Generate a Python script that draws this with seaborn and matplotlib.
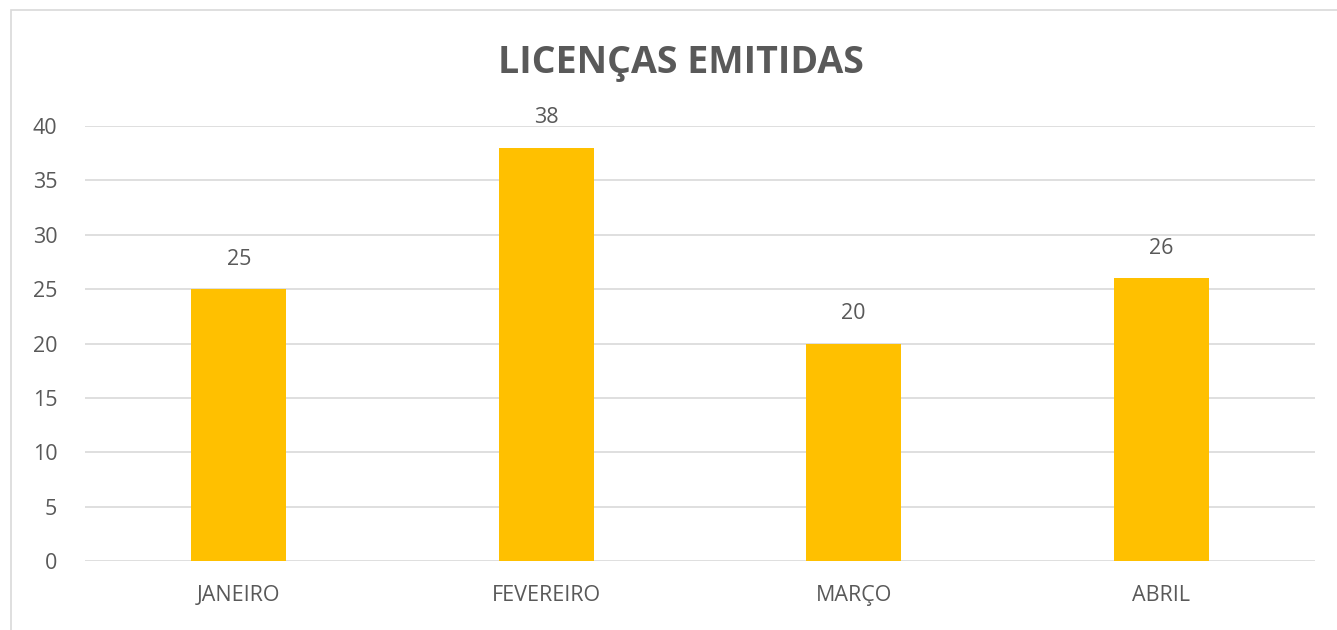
import matplotlib.pyplot as plt
import pandas as pd
import seaborn as sns
from matplotlib.patches import Rectangle

meses = ["JANEIRO", "FEVEREIRO", "MARÇO", "ABRIL"]
licencas = [25, 38, 20, 26]
y_ticks = [0, 5, 10, 15, 20, 25, 30, 35, 40]
titulo = "LICENÇAS EMITIDAS"

df = pd.DataFrame({"mes": meses, "licencas": licencas})

sns.set_theme(style="white")
plt.rcParams["font.family"] = ["Open Sans", "DejaVu Sans"]

texto = "#595959"
fig = plt.figure(figsize=(13.37, 6.3), dpi=100)
ax = fig.add_axes([0.0636, 0.1095, 0.9199, 0.6905])

sns.barplot(data=df, x="mes", y="licencas", color="#FFC000", width=0.31,
            saturation=1, linewidth=0, ax=ax, zorder=3)

ax.set_ylim(0, 40)
ax.set_yticks(y_ticks)
ax.set_xlim(-0.5, len(meses) - 0.5)
ax.yaxis.grid(True, color="#d9d9d9", linewidth=1.2, zorder=0)
ax.set_axisbelow(True)
for s in ax.spines.values():
    s.set_visible(False)
ax.tick_params(axis="both", length=0, colors=texto, labelsize=15.5)
ax.tick_params(axis="y", pad=20)
ax.tick_params(axis="x", pad=17)
ax.set_xlabel("")
ax.set_ylabel("")

for c in ax.containers:
    ax.bar_label(c, padding=14, color=texto, fontsize=15.5)

fig.text(0.509, 0.9, titulo, ha="center", va="center", fontsize=27,
         fontweight="bold", color=texto)

# moldura do gráfico
fig.patches.append(Rectangle((11 / 1337, -0.1), 1.2, 1 - 10 / 630 + 0.1,
                             transform=fig.transFigure, fill=False,
                             edgecolor="#d9d9d9", linewidth=1.2))

plt.savefig("out.png", dpi=100)
